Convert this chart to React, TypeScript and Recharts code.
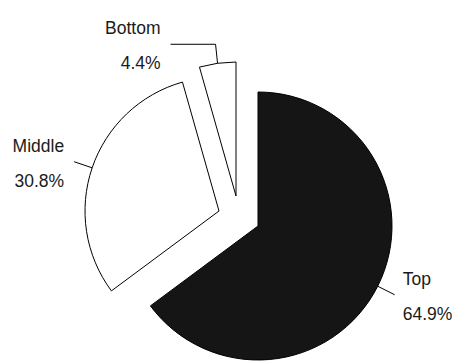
import { Cell, Pie, PieChart } from "recharts";

const names = ["Top", "Middle", "Bottom"];
const shares = [64.9, 30.8, 4.4];

// how far each slice is pulled out of the pie, in px
const pullX = [0, -39, -22];
const pullY = [0, -15, -30];
const fills = ["#151515", "#ffffff", "#ffffff"];

const data = names.map((name, i) => ({ name, value: shares[i] }));

const RAD = Math.PI / 180;

function SliceLabel(props: any) {
  const { cx, cy, midAngle, outerRadius, index, name, value } = props;
  const ox = cx + pullX[index];
  const oy = cy + pullY[index];
  const cos = Math.cos(-midAngle * RAD);
  const sin = Math.sin(-midAngle * RAD);
  const sx = ox + outerRadius * cos;
  const sy = oy + outerRadius * sin;
  let ex = ox + (outerRadius + 19) * cos;
  let ey = oy + (outerRadius + 19) * sin;
  let path = `M${sx},${sy}L${ex},${ey}`;
  if (index === 2) {
    ex = sx - 2;
    ey = sy - 19;
    path = `M${sx},${sy}L${ex},${ey}L${ex - 45},${ey}`;
    ex = ex - 45;
  }
  const right = ex > ox;
  const tx = right ? ex + 8 : ex - 10;
  const anchor = right ? "start" : "end";
  return (
    <g>
      <path d={path} stroke="#000" fill="none" strokeWidth={1} />
      <text x={tx} y={ey - 16} textAnchor={anchor} dominantBaseline="central" fontSize={17.5} fill="#1a1a1a">
        {name}
      </text>
      <text x={tx} y={ey + 19} textAnchor={anchor} dominantBaseline="central" fontSize={17.5} fill="#1a1a1a">
        {value.toFixed(1) + "%"}
      </text>
    </g>
  );
}

export default function App() {
  return (
    <div style={{ position: "absolute", left: 0, top: 0, width: 455, height: 362, fontFamily: "Liberation Sans, Arial, sans-serif" }}>
      <PieChart width={455} height={362} margin={{ top: 0, right: 0, bottom: 0, left: 0 }}>
        <Pie
          data={data}
          dataKey="value"
          nameKey="name"
          cx={258}
          cy={226}
          outerRadius={134}
          startAngle={90}
          endAngle={-270}
          stroke="#000"
          strokeWidth={1}
          label={SliceLabel}
          labelLine={false}
          isAnimationActive={false}
        >
          {data.map((d, i) => (
            <Cell key={d.name} fill={fills[i]} transform={`translate(${pullX[i]},${pullY[i]})`} />
          ))}
        </Pie>
      </PieChart>
    </div>
  );
}
